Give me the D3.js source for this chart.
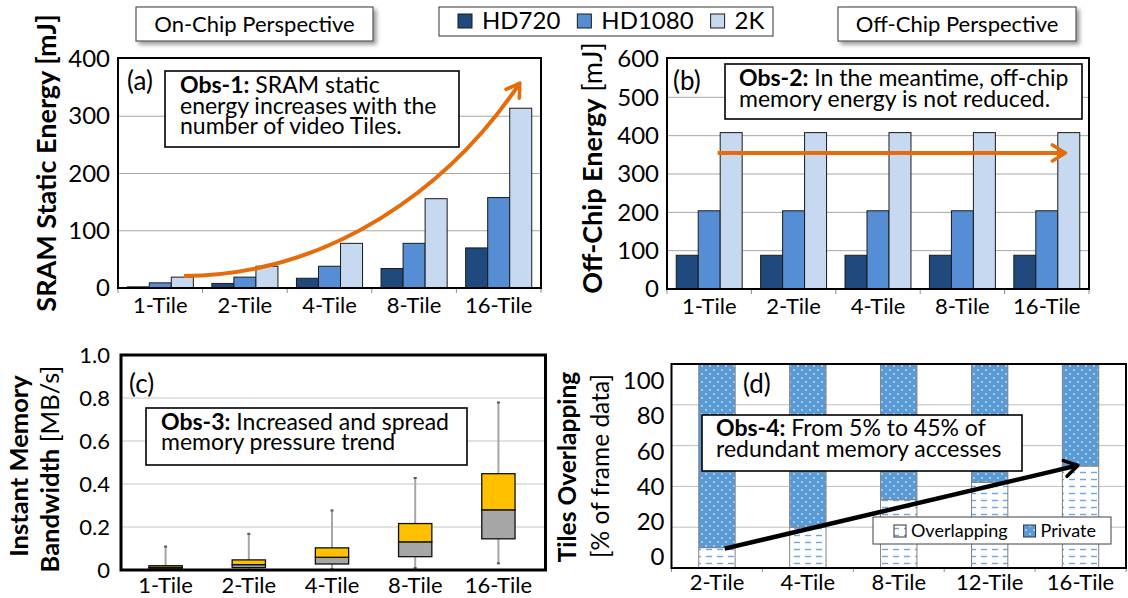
<!DOCTYPE html>
<html>
<head>
<meta charset="utf-8">
<script src="https://cdn.jsdelivr.net/npm/d3@7"></script>
<style>
    body { margin: 0; background: #fff; }
    svg { display: block; font-family: Lato, "Open Sans", sans-serif; }
</style>
</head>
<body>
<svg id="chart" width="1128" height="598"></svg>
<script>
// ---- data ----
const tiles = ['1-Tile', '2-Tile', '4-Tile', '8-Tile', '16-Tile'];
const resolutions = ['HD720', 'HD1080', '2K'];

// (a) SRAM static energy [mJ]
const sramHD720 = [2, 8, 17, 34, 70];
const sramHD1080 = [9, 19, 38, 78, 158];
const sram2K = [19, 38, 78, 156, 314];

// (b) off-chip energy [mJ]
const offHD720 = [88, 88, 88, 88, 88];
const offHD1080 = [204, 204, 204, 204, 204];
const off2K = [408, 408, 408, 408, 408];

// (c) instant memory bandwidth [MB/s], box plot
const bwMin = [0, 0, 0.003, 0.009, 0.031];
const bwQ1 = [0.005, 0.011, 0.028, 0.062, 0.145];
const bwMedian = [0.012, 0.025, 0.059, 0.131, 0.28];
const bwQ3 = [0.02, 0.047, 0.103, 0.216, 0.448];
const bwMax = [0.109, 0.168, 0.277, 0.428, 0.779];

// (d) tiles overlapping [% of frame data]
const overlapTiles = ['2-Tile', '4-Tile', '8-Tile', '12-Tile', '16-Tile'];
const overlapping = [10, 20, 33.5, 42, 50];
const privateData = [90, 80, 66.5, 58, 50];

const ticksA = [0, 100, 200, 300, 400];
const ticksB = [0, 100, 200, 300, 400, 500, 600];
const ticksC = [0, 0.2, 0.4, 0.6, 0.8, 1.0];
const ticksD = [0, 20, 40, 60, 80, 100];

// ---- styles ----
const colors = {HD720: '#204A7E', HD1080: '#558ED5', '2K': '#C6D9F1'};
const orange = '#E46C0A';

const svg = d3.select('#chart');
const defs = svg.append('defs');

const shadow = defs.append('filter').attr('id', 'shadow')
    .attr('x', '-10%').attr('y', '-30%').attr('width', '125%').attr('height', '180%');
shadow.append('feDropShadow').attr('dx', 3).attr('dy', 3).attr('stdDeviation', 2)
    .attr('flood-color', '#000').attr('flood-opacity', 0.4);

const privPat = defs.append('pattern').attr('id', 'privPat')
    .attr('patternUnits', 'userSpaceOnUse').attr('width', 8).attr('height', 8);
privPat.append('rect').attr('width', 8).attr('height', 8).attr('fill', '#5B9BD5');
privPat.append('circle').attr('cx', 2).attr('cy', 2).attr('r', 0.8).attr('fill', '#fff');
privPat.append('circle').attr('cx', 6).attr('cy', 6).attr('r', 0.8).attr('fill', '#fff');

const ovPat = defs.append('pattern').attr('id', 'ovPat')
    .attr('patternUnits', 'userSpaceOnUse').attr('width', 11).attr('height', 7);
ovPat.append('rect').attr('width', 11).attr('height', 7).attr('fill', '#fff');
ovPat.append('line').attr('x1', 2).attr('x2', 8).attr('y1', 3.5).attr('y2', 3.5)
    .attr('stroke', '#6FA6DE').attr('stroke-width', 1.4);

function addMarker(id, color) {
    defs.append('marker').attr('id', id)
        .attr('viewBox', '0 0 20 20').attr('refX', 16).attr('refY', 10)
        .attr('markerWidth', 20).attr('markerHeight', 20)
        .attr('markerUnits', 'userSpaceOnUse').attr('orient', 'auto')
        .append('path').attr('d', 'M3,2 L16,10 L3,18')
        .attr('fill', 'none').attr('stroke', color).attr('stroke-width', 3.5)
        .attr('stroke-linecap', 'round').attr('stroke-linejoin', 'round');
}
addMarker('arrOrange', orange);
addMarker('arrBlack', '#000');

// helpers
function styleAxis(g, size) {
    g.select('.domain').remove();
    g.selectAll('text').attr('fill', '#000').style('font-size', size + 'px')
        .style('font-family', 'Lato, "Open Sans", sans-serif');
}

function noteBox(box, lines) {
    svg.append('rect').attr('x', box.x0).attr('y', box.y0)
        .attr('width', box.x1 - box.x0).attr('height', box.y1 - box.y0)
        .attr('fill', '#fff').attr('stroke', '#000').attr('stroke-width', 1.6);
    lines.forEach((ln, i) => {
        const t = svg.append('text').attr('x', box.tx).attr('y', box.ty + i * box.gap)
            .style('font-size', box.size + 'px');
        if (ln[0]) t.append('tspan').attr('font-weight', 'bold').text(ln[0]);
        t.append('tspan').text(ln[1]);
    });
}

function panelLetter(x, y, s) {
    svg.append('text').attr('x', x).attr('y', y).style('font-size', '26px').text(s);
}

function yTitle(x, y, size, parts) {
    const t = svg.append('text').attr('transform', `translate(${x},${y}) rotate(-90)`)
        .attr('text-anchor', 'middle').style('font-size', size + 'px');
    parts.forEach(p => t.append('tspan').attr('font-weight', p[1] ? 'bold' : 'normal').text(p[0]));
}

function perspective(x0, x1, label) {
    svg.append('rect').attr('x', x0).attr('y', 7).attr('width', x1 - x0).attr('height', 34)
        .attr('fill', '#fff').attr('stroke', '#555').attr('stroke-width', 1.2)
        .attr('filter', 'url(#shadow)');
    svg.append('text').attr('x', (x0 + x1) / 2).attr('y', 32).attr('text-anchor', 'middle')
        .style('font-size', '22px').text(label);
}

// ---- grouped bar panels (a), (b) ----
function groupedBars(p) {
    const x = d3.scaleBand().domain(tiles).range([p.l, p.r]);
    const xs = d3.scaleBand().domain(resolutions).range([0, x.bandwidth()]).paddingOuter(0.42);
    const y = d3.scaleLinear().domain([0, p.max]).range([p.b, p.t]);

    svg.append('g').selectAll('line').data(p.ticks.slice(1, -1)).join('line')
        .attr('x1', p.l).attr('x2', p.r).attr('y1', d => y(d)).attr('y2', d => y(d))
        .attr('stroke', '#A6A6A6').attr('stroke-width', 1);

    const rows = tiles.map((t, i) => ({tile: t, HD720: p.series[0][i], HD1080: p.series[1][i], '2K': p.series[2][i]}));
    svg.append('g').selectAll('g').data(rows).join('g')
        .attr('transform', d => `translate(${x(d.tile)},0)`)
        .selectAll('rect').data(d => resolutions.map(r => ({r, v: d[r]}))).join('rect')
        .attr('x', d => xs(d.r)).attr('width', xs.bandwidth())
        .attr('y', d => y(d.v)).attr('height', d => p.b - y(d.v))
        .attr('fill', d => colors[d.r]).attr('stroke', '#1a1a1a').attr('stroke-width', 1);

    // boundary ticks
    svg.append('g').selectAll('line').data(tiles.map(t => x(t)).concat([p.r])).join('line')
        .attr('x1', d => d).attr('x2', d => d).attr('y1', p.b).attr('y2', p.b + 5)
        .attr('stroke', '#8c8c8c').attr('stroke-width', 1);

    svg.append('rect').attr('x', p.l).attr('y', p.t - 1).attr('width', p.r - p.l).attr('height', p.b - p.t + 1)
        .attr('fill', 'none').attr('stroke', '#000').attr('stroke-width', 2);

    const ya = svg.append('g').attr('transform', `translate(${p.l},0)`)
        .call(d3.axisLeft(y).tickValues(p.ticks).tickSize(0).tickPadding(8));
    styleAxis(ya, 24);
    const xa = svg.append('g').attr('transform', `translate(0,${p.b})`)
        .call(d3.axisBottom(x).tickSize(0).tickPadding(9));
    styleAxis(xa, 22);

    return {x, y, xu: d3.scaleLinear().domain([0, tiles.length]).range([p.l, p.r])};
}

// (a)
const pa = groupedBars({l: 118, r: 541, t: 59, b: 288, max: 400, ticks: ticksA,
    series: [sramHD720, sramHD1080, sram2K]});
panelLetter(127, 90, '(a)');
noteBox({x0: 165, y0: 71, x1: 459, y1: 147, tx: 180, ty: 93, gap: 20.5, size: 23},
    [['Obs-1:', ' SRAM static'], ['', 'energy increases with the'], ['', 'number of video Tiles.']]);
// trend arrow, points in (category units, mJ)
const curveA = [[0.78, 21], [2.51, 23], [3.92, 175], [4.75, 358]];
const ca = curveA.map(d => [pa.xu(d[0]), pa.y(d[1])]);
svg.append('path')
    .attr('d', `M${ca[0]}C${ca[1]} ${ca[2]} ${ca[3]}`)
    .attr('fill', 'none').attr('stroke', orange).attr('stroke-width', 4)
    .attr('marker-end', 'url(#arrOrange)');
yTitle(56, 163, 27, [['SRAM Static Energy [mJ]', true]]);

// (b)
const pb = groupedBars({l: 667, r: 1089, t: 59, b: 289, max: 600, ticks: ticksB,
    series: [offHD720, offHD1080, off2K]});
panelLetter(673, 90, '(b)');
noteBox({x0: 725, y0: 64, x1: 1082, y1: 119, tx: 739, ty: 86, gap: 20.5, size: 23},
    [['Obs-2:', ' In the meantime, off-chip'], ['', 'memory energy is not reduced.']]);
svg.append('line')
    .attr('x1', pb.xu(0.6)).attr('x2', pb.xu(4.72)).attr('y1', pb.y(355)).attr('y2', pb.y(355))
    .attr('stroke', orange).attr('stroke-width', 4).attr('marker-end', 'url(#arrOrange)');
yTitle(602, 168, 27, [['Off-Chip Energy', true], [' [mJ]', false]]);

// ---- (c) box plot ----
(function () {
    const p = {l: 121, r: 545.5, t: 355, b: 570};
    const x = d3.scaleBand().domain(tiles).range([124, 540]).paddingInner(0.6).paddingOuter(0.3);
    const y = d3.scaleLinear().domain([0, 1]).range([p.b, p.t]);

    svg.append('g').selectAll('line').data(ticksC.slice(1, -1)).join('line')
        .attr('x1', p.l).attr('x2', p.r).attr('y1', d => y(d)).attr('y2', d => y(d))
        .attr('stroke', '#D9D9D9').attr('stroke-width', 1.5);

    const stats = tiles.map((t, i) => ({t, lo: bwMin[i], q1: bwQ1[i], med: bwMedian[i], q3: bwQ3[i], hi: bwMax[i]}));
    const g = svg.append('g').selectAll('g').data(stats).join('g')
        .attr('transform', d => `translate(${x(d.t)},0)`);
    const w = x.bandwidth();
    g.append('line').attr('x1', w / 2).attr('x2', w / 2)
        .attr('y1', d => y(d.lo)).attr('y2', d => y(d.hi))
        .attr('stroke', '#A6A6A6').attr('stroke-width', 2);
    g.append('rect').attr('x', w / 2 - 1.5).attr('width', 3).attr('height', 2)
        .attr('y', d => y(d.hi) - 1).attr('fill', '#555');
    g.append('rect').attr('x', w / 2 - 1.5).attr('width', 3).attr('height', 2)
        .attr('y', d => y(d.lo) - 1).attr('fill', '#555');
    g.append('rect').attr('x', 0).attr('width', w)
        .attr('y', d => y(d.med)).attr('height', d => y(d.q1) - y(d.med))
        .attr('fill', '#A6A6A6').attr('stroke', '#111').attr('stroke-width', 1.3);
    g.append('rect').attr('x', 0).attr('width', w)
        .attr('y', d => y(d.q3)).attr('height', d => y(d.med) - y(d.q3))
        .attr('fill', '#FFC000').attr('stroke', '#111').attr('stroke-width', 1.3);

    svg.append('rect').attr('x', p.l).attr('y', p.t).attr('width', p.r - p.l).attr('height', p.b - p.t)
        .attr('fill', 'none').attr('stroke', '#000').attr('stroke-width', 3);

    const ya = svg.append('g').attr('transform', `translate(${p.l},0)`)
        .call(d3.axisLeft(y).tickValues(ticksC).tickSize(0).tickPadding(11)
            .tickFormat(d => d === 0 ? '0' : d3.format('.1f')(d)));
    styleAxis(ya, 22);
    const xa = svg.append('g').attr('transform', `translate(0,${p.b})`)
        .call(d3.axisBottom(x).tickSize(0).tickPadding(7));
    styleAxis(xa, 22);
})();
panelLetter(129, 393, '(c)');
noteBox({x0: 146, y0: 408, x1: 467, y1: 465, tx: 161, ty: 430, gap: 20, size: 23},
    [['Obs-3:', ' Increased and spread'], ['', 'memory pressure trend']]);
yTitle(28, 466, 25.5, [['Instant Memory', true]]);
yTitle(59, 469, 25.5, [['Bandwidth', true], [' [MB/s]', false]]);

// ---- (d) stacked overlap bars ----
(function () {
    const p = {l: 671.5, r: 1126, t: 364, b: 568};
    const x = d3.scaleBand().domain(overlapTiles).range([p.l, p.r]).paddingInner(0.6).paddingOuter(0.3);
    const y = d3.scaleLinear().domain([0, 100]).range([p.b, p.t]);
    // tick labels sit slightly off the gridlines in the original figure
    const yLab = d3.scaleLinear().domain([0, 100]).range([557, 381]);

    svg.append('g').selectAll('line').data(ticksD.slice(1, -1)).join('line')
        .attr('x1', p.l).attr('x2', p.r).attr('y1', d => y(d)).attr('y2', d => y(d))
        .attr('stroke', '#BFBFBF').attr('stroke-width', 1);

    const rows = overlapTiles.map((t, i) => ({t, ov: overlapping[i], pr: privateData[i]}));
    const g = svg.append('g').selectAll('g').data(rows).join('g');
    g.append('rect').attr('x', d => x(d.t)).attr('width', x.bandwidth())
        .attr('y', d => y(d.ov)).attr('height', d => p.b - y(d.ov))
        .attr('fill', 'url(#ovPat)').attr('stroke', '#808080').attr('stroke-width', 1);
    g.append('rect').attr('x', d => x(d.t)).attr('width', x.bandwidth())
        .attr('y', d => y(d.ov + d.pr)).attr('height', d => y(d.ov) - y(d.ov + d.pr))
        .attr('fill', 'url(#privPat)').attr('stroke', '#808080').attr('stroke-width', 1);

    const step = x.step();
    const bounds = overlapTiles.map(t => x(t) - step * 0.3).concat([p.r]);
    svg.append('g').selectAll('line').data(bounds).join('line')
        .attr('x1', d => d).attr('x2', d => d).attr('y1', p.b).attr('y2', p.b + 4)
        .attr('stroke', '#8c8c8c');

    svg.append('path')
        .attr('d', `M${p.l},${p.b}V${p.t}H${p.r}V${p.b}Z`)
        .attr('fill', 'none').attr('stroke', '#000').attr('stroke-width', 2);

    const ya = svg.append('g').attr('transform', `translate(${p.l},0)`)
        .call(d3.axisLeft(yLab).tickValues(ticksD).tickSize(0).tickPadding(7));
    styleAxis(ya, 24);
    const xa = svg.append('g').attr('transform', `translate(0,${p.b})`)
        .call(d3.axisBottom(x).tickSize(0).tickPadding(6));
    styleAxis(xa, 22);

    svg.append('text').attr('x', 743).attr('y', 393).style('font-size', '26px').text('(d)');
    noteBox({x0: 702, y0: 415, x1: 1022, y1: 471, tx: 716, ty: 436, gap: 20.5, size: 23},
        [['Obs-4:', ' From 5% to 45% of'], ['', 'redundant memory accesses']]);

    // legend
    svg.append('rect').attr('x', 873).attr('y', 517).attr('width', 238).attr('height', 27)
        .attr('fill', '#fff').attr('stroke', '#404040').attr('stroke-width', 1);
    const leg = [['Overlapping', 'url(#ovPat)'], ['Private', 'url(#privPat)']];
    let cx = 894;
    leg.forEach(l => {
        svg.append('rect').attr('x', cx).attr('y', 525).attr('width', 12).attr('height', 12)
            .attr('fill', l[1]).attr('stroke', '#333').attr('stroke-width', 1);
        const t = svg.append('text').attr('x', cx + 17).attr('y', 537).style('font-size', '18px').text(l[0]);
        cx += 17 + t.node().getComputedTextLength() + 16;
    });

    // trend arrow in (category units, %)
    const xu = d3.scaleLinear().domain([0, overlapTiles.length]).range([p.l, p.r]);
    svg.append('line')
        .attr('x1', xu(0.585)).attr('y1', y(9.5)).attr('x2', xu(4.47)).attr('y2', y(50.3))
        .attr('stroke', '#000').attr('stroke-width', 4.5).attr('marker-end', 'url(#arrBlack)');
})();
yTitle(576, 467, 24.5, [['Tiles Overlapping', true]]);
yTitle(609, 466, 24.5, [['[% of frame data]', false]]);

// ---- header boxes and series legend ----
perspective(136, 373, 'On-Chip Perspective');
perspective(838, 1076, 'Off-Chip Perspective');

svg.append('rect').attr('x', 439).attr('y', 7).attr('width', 334).attr('height', 29)
    .attr('fill', '#fff').attr('stroke', '#333').attr('stroke-width', 1);
let lx = 458;
resolutions.forEach(r => {
    svg.append('rect').attr('x', lx).attr('y', 14).attr('width', 14).attr('height', 14)
        .attr('fill', colors[r]).attr('stroke', '#1a1a1a').attr('stroke-width', 1);
    const t = svg.append('text').attr('x', lx + 24).attr('y', 29).style('font-size', '24px').text(r);
    lx += 24 + t.node().getComputedTextLength() + 17;
});
</script>
</body>
</html>
